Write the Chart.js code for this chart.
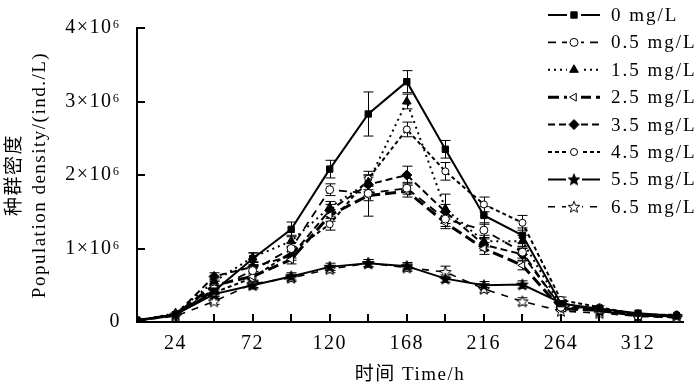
<!DOCTYPE html>
<html>
<head>
<meta charset="utf-8">
<script src="https://cdn.jsdelivr.net/npm/chart.js@4.4.1/dist/chart.umd.min.js"></script>
<style>
    body { margin: 0; background: #fff; }
</style>
</head>
<body>
<canvas id="chart" width="700" height="386"></canvas>
<script>
// time points (h)
const hours = [0, 24, 48, 72, 96, 120, 144, 168, 192, 216, 240, 264, 288, 312, 336];

// population density, x10^6 ind./L
const d00 = [0.02, 0.10, 0.42, 0.86, 1.26, 2.08, 2.83, 3.27, 2.35, 1.45, 1.18, 0.25, 0.18, 0.12, 0.08];
const d05 = [0.02, 0.10, 0.45, 0.70, 1.00, 1.80, 1.75, 1.82, 1.40, 1.25, 0.95, 0.20, 0.17, 0.08, 0.06];
const d15 = [0.02, 0.12, 0.55, 0.88, 1.10, 1.56, 1.90, 3.00, 1.54, 1.10, 1.10, 0.22, 0.18, 0.10, 0.08];
const d25 = [0.02, 0.10, 0.50, 0.62, 0.85, 1.45, 1.72, 1.78, 1.35, 1.00, 0.77, 0.18, 0.16, 0.10, 0.08];
const d35 = [0.02, 0.10, 0.62, 0.75, 0.90, 1.52, 1.87, 2.00, 1.50, 1.05, 0.92, 0.20, 0.17, 0.10, 0.08];
const d45 = [0.02, 0.10, 0.40, 0.60, 0.95, 1.33, 1.95, 2.62, 2.05, 1.60, 1.35, 0.30, 0.20, 0.10, 0.10];
const d55 = [0.02, 0.10, 0.38, 0.50, 0.62, 0.75, 0.80, 0.76, 0.59, 0.50, 0.51, 0.26, 0.15, 0.08, 0.08];
const d65 = [0.02, 0.08, 0.28, 0.52, 0.60, 0.72, 0.80, 0.74, 0.68, 0.45, 0.28, 0.15, 0.12, 0.08, 0.06];

// error bars (same unit)
const e00 = [0.01, 0.03, 0.05, 0.08, 0.10, 0.12, 0.30, 0.15, 0.12, 0.12, 0.10, 0.05, 0.04, 0.03, 0.03];
const e05 = [0.01, 0.03, 0.05, 0.06, 0.08, 0.08, 0.10, 0.08, 0.10, 0.10, 0.08, 0.04, 0.03, 0.03, 0.02];
const e15 = [0.01, 0.03, 0.05, 0.06, 0.08, 0.08, 0.10, 0.10, 0.20, 0.08, 0.08, 0.04, 0.03, 0.03, 0.02];
const e25 = [0.01, 0.03, 0.05, 0.06, 0.06, 0.08, 0.28, 0.08, 0.08, 0.08, 0.06, 0.04, 0.03, 0.03, 0.02];
const e35 = [0.01, 0.03, 0.05, 0.06, 0.06, 0.08, 0.10, 0.12, 0.10, 0.08, 0.08, 0.04, 0.03, 0.03, 0.02];
const e45 = [0.01, 0.03, 0.05, 0.06, 0.08, 0.08, 0.10, 0.10, 0.12, 0.10, 0.10, 0.04, 0.03, 0.03, 0.02];
const e55 = [0.01, 0.03, 0.04, 0.05, 0.05, 0.05, 0.05, 0.05, 0.05, 0.05, 0.05, 0.04, 0.03, 0.02, 0.02];
const e65 = [0.01, 0.03, 0.04, 0.05, 0.05, 0.05, 0.05, 0.05, 0.08, 0.05, 0.05, 0.03, 0.03, 0.02, 0.02];

const seriesLabels = ['0 mg/L', '0.5 mg/L', '1.5 mg/L', '2.5 mg/L', '3.5 mg/L', '4.5 mg/L', '5.5 mg/L', '6.5 mg/L'];
const xTickLabels = [24, 72, 120, 168, 216, 264, 312];
const yTickLabels = ['0', '1×10⁶', '2×10⁶', '3×10⁶', '4×10⁶'];

const SERIF = '"Liberation Serif", "Times New Roman", "Noto Sans CJK SC", serif';

// star marker as a small canvas
function makeStar(filled) {
    let c = document.createElement('canvas');
    c.width = 14;
    c.height = 14;
    let ctx = c.getContext('2d');
    ctx.beginPath();
    for (let i = 0; i < 10; i++) {
        let r = i % 2 === 0 ? 6 : 2.6;
        let a = -Math.PI / 2 + i * Math.PI / 5;
        let x = 7 + r * Math.cos(a);
        let y = 7.5 + r * Math.sin(a);
        if (i === 0) ctx.moveTo(x, y); else ctx.lineTo(x, y);
    }
    ctx.closePath();
    ctx.fillStyle = filled ? '#000' : '#fff';
    ctx.fill();
    ctx.lineWidth = 1;
    ctx.strokeStyle = '#000';
    ctx.stroke();
    return c;
}

function toPoints(values) {
    return hours.map((h, i) => ({ x: h, y: values[i] }));
}

function makeSet(label, values, errors, dash, width, style, fill, radius, rotation) {
    return {
        label: label,
        data: toPoints(values),
        errors: errors,
        borderColor: '#000',
        borderWidth: width,
        borderDash: dash,
        pointStyle: style,
        pointRadius: radius,
        pointRotation: rotation || 0,
        pointBackgroundColor: fill,
        pointBorderColor: '#000',
        pointBorderWidth: 1,
        tension: 0,
        fill: false,
    };
}

const datasets = [
    makeSet(seriesLabels[0], d00, e00, [], 2, 'rect', '#000', 4.5),
    makeSet(seriesLabels[1], d05, e05, [8, 6], 1.8, 'circle', '#fff', 4),
    makeSet(seriesLabels[2], d15, e15, [2, 4], 2, 'triangle', '#000', 5),
    makeSet(seriesLabels[3], d25, e25, [11, 5], 3, 'triangle', '#fff', 4.5, -90),
    makeSet(seriesLabels[4], d35, e35, [7, 4], 2, 'rectRot', '#000', 5),
    makeSet(seriesLabels[5], d45, e45, [4, 3], 2, 'circle', '#fff', 3.5),
    makeSet(seriesLabels[6], d55, e55, [], 2, makeStar(true), '#000', 5),
    makeSet(seriesLabels[7], d65, e65, [7, 7], 1.6, makeStar(false), '#fff', 5),
];

// spaced-out lettering like the printed figure
const letterSpace = {
    id: 'letterSpace',
    beforeDraw(chart) {
        chart.ctx.letterSpacing = '1.5px';
    },
};

// error bars drawn from each dataset's errors array
const errorBars = {
    id: 'errorBars',
    beforeDatasetsDraw(chart) {
        let ctx = chart.ctx;
        let xs = chart.scales.x;
        let ys = chart.scales.y;
        ctx.save();
        ctx.strokeStyle = '#000';
        ctx.lineWidth = 1;
        chart.data.datasets.forEach(ds => {
            ds.data.forEach((p, i) => {
                let err = ds.errors[i];
                if (!err || err < 0.04) return;
                let px = Math.round(xs.getPixelForValue(p.x)) + 0.5;
                let top = ys.getPixelForValue(p.y + err);
                let bot = ys.getPixelForValue(Math.max(0, p.y - err));
                ctx.beginPath();
                ctx.moveTo(px, top);
                ctx.lineTo(px, bot);
                ctx.moveTo(px - 5, top);
                ctx.lineTo(px + 5, top);
                ctx.moveTo(px - 5, bot);
                ctx.lineTo(px + 5, bot);
                ctx.stroke();
            });
        });
        ctx.restore();
    },
};

// inward tick marks on both axes
const innerTicks = {
    id: 'innerTicks',
    afterDraw(chart) {
        let ctx = chart.ctx;
        let xs = chart.scales.x;
        let ys = chart.scales.y;
        let area = chart.chartArea;
        ctx.save();
        ctx.strokeStyle = '#000';
        ctx.lineWidth = 2;
        ctx.beginPath();
        xs.ticks.forEach(t => {
            if (t.value <= 0 || t.value % 24 !== 0) return;
            let px = Math.round(xs.getPixelForValue(t.value));
            ctx.moveTo(px, area.bottom);
            ctx.lineTo(px, area.bottom - 8);
        });
        ys.ticks.forEach(t => {
            let py = Math.round(ys.getPixelForValue(t.value));
            ctx.moveTo(area.left, py);
            ctx.lineTo(area.left + 8, py);
        });
        ctx.stroke();
        ctx.restore();
    },
};

// legend in the top right corner: line sample, marker, label
const cornerLegend = {
    id: 'cornerLegend',
    afterDraw(chart) {
        let ctx = chart.ctx;
        ctx.save();
        chart.data.datasets.forEach((ds, i) => {
            let y = 15 + i * 27.4;
            ctx.strokeStyle = '#000';
            ctx.lineWidth = ds.borderWidth;
            ctx.setLineDash(ds.borderDash);
            ctx.beginPath();
            ctx.moveTo(548, y);
            ctx.lineTo(600, y);
            ctx.stroke();
            ctx.setLineDash([]);
            if (ds.pointStyle instanceof HTMLCanvasElement) {
                ctx.fillStyle = '#fff';
                ctx.fillRect(566, y - 6, 16, 12);
                ctx.drawImage(ds.pointStyle, 574 - 7, y - 7);
            } else {
                ctx.fillStyle = '#fff';
                ctx.fillRect(567, y - 6, 14, 12);
                ctx.fillStyle = ds.pointBackgroundColor;
                ctx.strokeStyle = '#000';
                ctx.lineWidth = 1;
                Chart.helpers.drawPoint(ctx, {
                    pointStyle: ds.pointStyle,
                    radius: ds.pointRadius,
                    rotation: ds.pointRotation,
                    borderWidth: 1,
                }, 574, y);
            }
            ctx.fillStyle = '#000';
            ctx.font = '19px ' + SERIF;
            ctx.letterSpacing = '2px';
            ctx.textBaseline = 'middle';
            ctx.textAlign = 'left';
            ctx.fillText(ds.label, 611, y + 1);
        });
        ctx.restore();
    },
};

const config = {
    type: 'line',
    data: { datasets: datasets },
    options: {
        responsive: false,
        animation: false,
        devicePixelRatio: 1,
        layout: {
            padding: { top: 10, right: 17, left: 0, bottom: 0 },
        },
        plugins: {
            legend: { display: false },
            tooltip: { enabled: false },
        },
        scales: {
            x: {
                type: 'linear',
                min: 0,
                max: 340,
                border: { color: '#000', width: 2 },
                grid: { display: false, drawTicks: false },
                ticks: {
                    stepSize: 24,
                    autoSkip: false,
                    maxRotation: 0,
                    padding: 10,
                    color: '#000',
                    font: { family: SERIF, size: 20 },
                    callback: v => xTickLabels.includes(v) ? String(v) : '',
                },
                title: {
                    display: true,
                    text: '时间 Time/h',
                    color: '#000',
                    font: { family: SERIF, size: 19 },
                    padding: { top: 2, bottom: 0 },
                },
                afterFit: s => { s.height = 64; },
            },
            y: {
                min: 0,
                max: 4,
                border: { color: '#000', width: 2 },
                grid: { display: false, drawTicks: false },
                ticks: {
                    stepSize: 1,
                    padding: 16,
                    color: '#000',
                    font: { family: SERIF, size: 20 },
                    callback: v => yTickLabels[v],
                },
                title: {
                    display: true,
                    text: ['种群密度', 'Population density/(ind./L)'],
                    color: '#000',
                    font: { family: SERIF, size: 19, lineHeight: 1.35 },
                    padding: { top: 2, bottom: 0 },
                },
                afterFit: s => { s.width = 137; },
            },
        },
    },
    plugins: [letterSpace, errorBars, innerTicks, cornerLegend],
};

new Chart(document.getElementById('chart'), config);
</script>
</body>
</html>
